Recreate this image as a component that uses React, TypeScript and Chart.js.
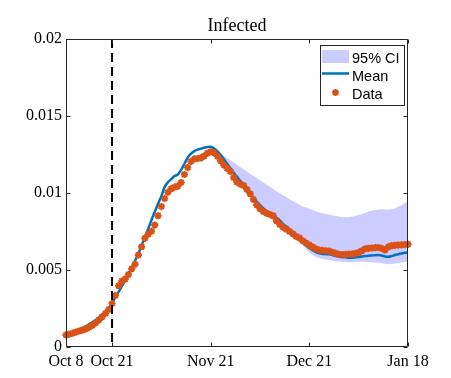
import React, { useEffect, useRef } from 'react';
import { Chart, registerables } from 'chart.js';

Chart.register(...registerables);

const xTickDays = [0, 14, 44, 74, 104];
const xTickLabels = ['Oct 8', 'Oct 21', 'Nov 21', 'Dec 21', 'Jan 18'];
const yTickValues = [0, 0.005, 0.01, 0.015, 0.02];
const yTickLabels = ['0', '0.005', '0.01', '0.015', '0.02'];
const interventionDay = 14;
const titleText = 'Infected';
const legendLabels = ['95% CI', 'Mean', 'Data'];

// observed data, one value per day from Oct 8 (day 0)
const observed = [
  0.00078, 0.00083, 0.0009, 0.00097, 0.00104, 0.0011, 0.00118, 0.00128, 0.0014, 0.00157,
  0.00175, 0.00196, 0.00218, 0.00243, 0.00282, 0.00335, 0.00398, 0.00428, 0.00441, 0.0047,
  0.00508, 0.00538, 0.00597, 0.00651, 0.00706, 0.00732, 0.00752, 0.00792, 0.00853, 0.00912,
  0.00965, 0.01005, 0.01028, 0.01038, 0.01045, 0.01068, 0.0112, 0.01165, 0.01205, 0.01221,
  0.01224, 0.01228, 0.0124, 0.01258, 0.01268, 0.01262, 0.0124, 0.0121, 0.01182, 0.0116,
  0.0114, 0.011, 0.0107, 0.01058, 0.01048, 0.01022, 0.00995, 0.00958, 0.00922, 0.00898,
  0.0088, 0.00868, 0.0086, 0.00852, 0.0082, 0.00795, 0.00778, 0.00765, 0.0075, 0.00735,
  0.00718, 0.00707, 0.0069, 0.00675, 0.00662, 0.0065, 0.00638, 0.0063, 0.00627, 0.00625,
  0.00623, 0.00615, 0.00608, 0.00602, 0.006, 0.00602, 0.00603, 0.00603, 0.00608, 0.00614,
  0.00625, 0.00638, 0.00641, 0.00643, 0.00645, 0.00646, 0.0064, 0.0063, 0.0065, 0.00658,
  0.0066, 0.00662, 0.00663, 0.00665, 0.00667,
];

// model mean, one value per day
const meanValues = [
  0.00078, 0.00085, 0.00093, 0.00101, 0.00111, 0.00122, 0.00134, 0.00147, 0.00161, 0.00176,
  0.00192, 0.00209, 0.00229, 0.00253, 0.00285, 0.0032, 0.00358, 0.00395, 0.00432, 0.00472,
  0.00515, 0.0056, 0.00608, 0.0066, 0.00713, 0.00768, 0.00825, 0.00878, 0.0093, 0.0098,
  0.0104, 0.0107, 0.0109, 0.0111, 0.0112, 0.0115, 0.0119, 0.0123, 0.01255, 0.01272,
  0.01282, 0.01288, 0.01294, 0.01299, 0.013, 0.0129, 0.01272, 0.01248, 0.0122, 0.0119,
  0.0116, 0.01132, 0.01105, 0.01078, 0.0105, 0.01022, 0.00995, 0.00968, 0.00944, 0.00922,
  0.009, 0.00883, 0.0087, 0.00856, 0.0084, 0.00822, 0.008, 0.00782, 0.00765, 0.00745,
  0.00728, 0.00706, 0.00685, 0.00662, 0.00642, 0.00628, 0.00616, 0.00608, 0.00604, 0.00603,
  0.00602, 0.00597, 0.0059, 0.00586, 0.00584, 0.00582, 0.0058, 0.0058, 0.00582, 0.00584,
  0.00588, 0.00591, 0.00593, 0.00594, 0.00596, 0.00597, 0.00594, 0.00588, 0.00586, 0.0059,
  0.00597, 0.00602, 0.00607, 0.00612, 0.00615,
];

// 95% confidence band (forecast period)
const ciDays = [
  46, 48, 50, 52, 54, 56, 58, 60, 62, 64, 66, 68, 70, 72, 74,
  76, 78, 80, 82, 84, 86, 88, 90, 92, 94, 96, 98, 100, 102, 104,
];
const ciUpper = [
  0.01272, 0.0124, 0.01212, 0.01183, 0.01154, 0.01125, 0.01097, 0.01068, 0.0104, 0.01012,
  0.00985, 0.0096, 0.00935, 0.00912, 0.00898, 0.00882, 0.00868, 0.00858, 0.0085, 0.00843,
  0.00842, 0.0085, 0.00862, 0.0088, 0.0089, 0.00895, 0.00892, 0.009, 0.0092, 0.00948,
];
const ciLower = [
  0.01272, 0.01215, 0.0115, 0.0109, 0.0104, 0.00985, 0.00932, 0.00888, 0.00857, 0.00825,
  0.00782, 0.00745, 0.00705, 0.0066, 0.00612, 0.00585, 0.00572, 0.00565, 0.00557, 0.00553,
  0.0055, 0.00552, 0.00554, 0.00552, 0.00548, 0.00544, 0.00538, 0.0054, 0.00548, 0.00554,
];

const BLUE = '#0072BD';
const ORANGE = '#D95319';
const BAND = 'rgb(204,204,255)';
const AXIS = '#262626';

function drawStar(ctx: CanvasRenderingContext2D, x: number, y: number, r: number) {
  ctx.beginPath();
  for (let k = 0; k < 4; k++) {
    const a = (k * Math.PI) / 4;
    ctx.moveTo(x - r * Math.cos(a), y - r * Math.sin(a));
    ctx.lineTo(x + r * Math.cos(a), y + r * Math.sin(a));
  }
  ctx.stroke();
}

const decorPlugin = {
  id: 'decor',
  afterDatasetsDraw(chart: any) {
    const { ctx, chartArea: a, scales } = chart;
    const xs = scales.x;
    const ys = scales.y;
    const L = Math.round(a.left) + 0.5;
    const R = Math.round(a.right) - 0.5;
    const T = Math.round(a.top) + 0.5;
    const B = Math.round(a.bottom) - 0.5;
    ctx.save();
    ctx.strokeStyle = AXIS;
    ctx.lineWidth = 1;
    ctx.beginPath();
    ctx.rect(L, T, R - L, B - T);
    const tl = 4;
    xTickDays.forEach((d) => {
      const px = Math.round(xs.getPixelForValue(d)) + 0.5;
      ctx.moveTo(px, B);
      ctx.lineTo(px, B - tl);
      ctx.moveTo(px, T);
      ctx.lineTo(px, T + tl);
    });
    yTickValues.forEach((v) => {
      const py = Math.round(ys.getPixelForValue(v)) + 0.5;
      ctx.moveTo(L, py);
      ctx.lineTo(L + tl, py);
      ctx.moveTo(R, py);
      ctx.lineTo(R - tl, py);
    });
    ctx.stroke();
    ctx.restore();
  },
  afterDraw(chart: any) {
    const { ctx, chartArea: a } = chart;
    ctx.save();
    // title
    ctx.fillStyle = '#000';
    ctx.font = '18px "Liberation Serif"';
    ctx.textAlign = 'center';
    ctx.textBaseline = 'alphabetic';
    ctx.fillText(titleText, (a.left + a.right) / 2, 31);

    // legend box
    const bx = 320.5, by = 45.5, bw = 84, bh = 60;
    ctx.fillStyle = '#fff';
    ctx.fillRect(bx, by, bw, bh);
    ctx.strokeStyle = AXIS;
    ctx.lineWidth = 1;
    ctx.strokeRect(bx, by, bw, bh);

    ctx.fillStyle = BAND;
    ctx.fillRect(322, 50, 27, 13);

    ctx.strokeStyle = BLUE;
    ctx.lineWidth = 2.5;
    ctx.beginPath();
    ctx.moveTo(322, 73.5);
    ctx.lineTo(349, 73.5);
    ctx.stroke();

    ctx.strokeStyle = ORANGE;
    ctx.lineWidth = 2;
    drawStar(ctx, 335.5, 92.5, 3.5);

    ctx.fillStyle = '#000';
    ctx.font = '14.5px "Liberation Sans"';
    ctx.textAlign = 'left';
    ctx.textBaseline = 'alphabetic';
    ctx.fillText(legendLabels[0], 352, 63);
    ctx.fillText(legendLabels[1], 352, 80.5);
    ctx.fillText(legendLabels[2], 352, 98.5);
    ctx.restore();
  },
};

export default function App() {
  const ref = useRef<HTMLCanvasElement | null>(null);

  useEffect(() => {
    document.body.style.margin = '0';
    const canvas = ref.current;
    if (!canvas) return;
    const chart = new Chart(canvas, {
      type: 'line',
      data: {
        datasets: [
          {
            label: 'Intervention',
            data: [
              { x: interventionDay, y: yTickValues[yTickValues.length - 1] },
              { x: interventionDay, y: yTickValues[0] },
            ],
            borderColor: '#000',
            borderWidth: 2,
            borderDash: [9, 5],
            pointRadius: 0,
            fill: false,
          },
          {
            label: 'Data',
            data: observed.map((v, i) => ({ x: i, y: v })),
            showLine: false,
            pointStyle: 'star',
            pointRadius: 3.6,
            pointBorderWidth: 2,
            pointBorderColor: ORANGE,
            pointBackgroundColor: ORANGE,
            borderColor: ORANGE,
            clip: 6,
          },
          {
            label: 'Mean',
            data: meanValues.map((v, i) => ({ x: i, y: v })),
            borderColor: BLUE,
            borderWidth: 2.5,
            pointRadius: 0,
            fill: false,
            cubicInterpolationMode: 'monotone',
          },
          {
            label: 'CI upper',
            data: ciDays.map((d, i) => ({ x: d, y: ciUpper[i] })),
            borderWidth: 0,
            borderColor: 'rgba(0,0,0,0)',
            pointRadius: 0,
            backgroundColor: BAND,
            fill: { target: 4 },
          },
          {
            label: 'CI lower',
            data: ciDays.map((d, i) => ({ x: d, y: ciLower[i] })),
            borderWidth: 0,
            borderColor: 'rgba(0,0,0,0)',
            pointRadius: 0,
            fill: false,
          },
        ],
      },
      options: {
        responsive: false,
        animation: false,
        layout: { padding: { left: 0, right: 43, top: 39, bottom: 0 } },
        plugins: {
          legend: { display: false },
          title: { display: false },
          tooltip: { enabled: false },
        },
        scales: {
          x: {
            type: 'linear',
            min: xTickDays[0],
            max: xTickDays[xTickDays.length - 1],
            grid: { display: false, drawTicks: false },
            border: { display: false },
            afterBuildTicks: (scale: any) => {
              scale.ticks = xTickDays.map((v) => ({ value: v }));
            },
            afterFit: (scale: any) => {
              scale.height = 31;
            },
            ticks: {
              autoSkip: false,
              maxRotation: 0,
              minRotation: 0,
              padding: 5,
              color: '#000',
              font: { family: '"Liberation Serif"', size: 16 },
              callback: (value: any) => {
                const i = xTickDays.indexOf(Number(value));
                return i >= 0 ? xTickLabels[i] : '';
              },
            },
          },
          y: {
            type: 'linear',
            min: yTickValues[0],
            max: yTickValues[yTickValues.length - 1],
            grid: { display: false, drawTicks: false },
            border: { display: false },
            afterBuildTicks: (scale: any) => {
              scale.ticks = yTickValues.map((v) => ({ value: v }));
            },
            afterFit: (scale: any) => {
              scale.width = 66;
            },
            ticks: {
              autoSkip: false,
              padding: 4,
              color: '#000',
              font: { family: '"Liberation Serif"', size: 16 },
              callback: (value: any) => {
                const i = yTickValues.findIndex((t) => Math.abs(t - Number(value)) < 1e-9);
                return i >= 0 ? yTickLabels[i] : '';
              },
            },
          },
        },
      },
      plugins: [decorPlugin],
    } as any);
    return () => chart.destroy();
  }, []);

  return <canvas ref={ref} width={451} height={378} style={{ display: 'block' }} />;
}
